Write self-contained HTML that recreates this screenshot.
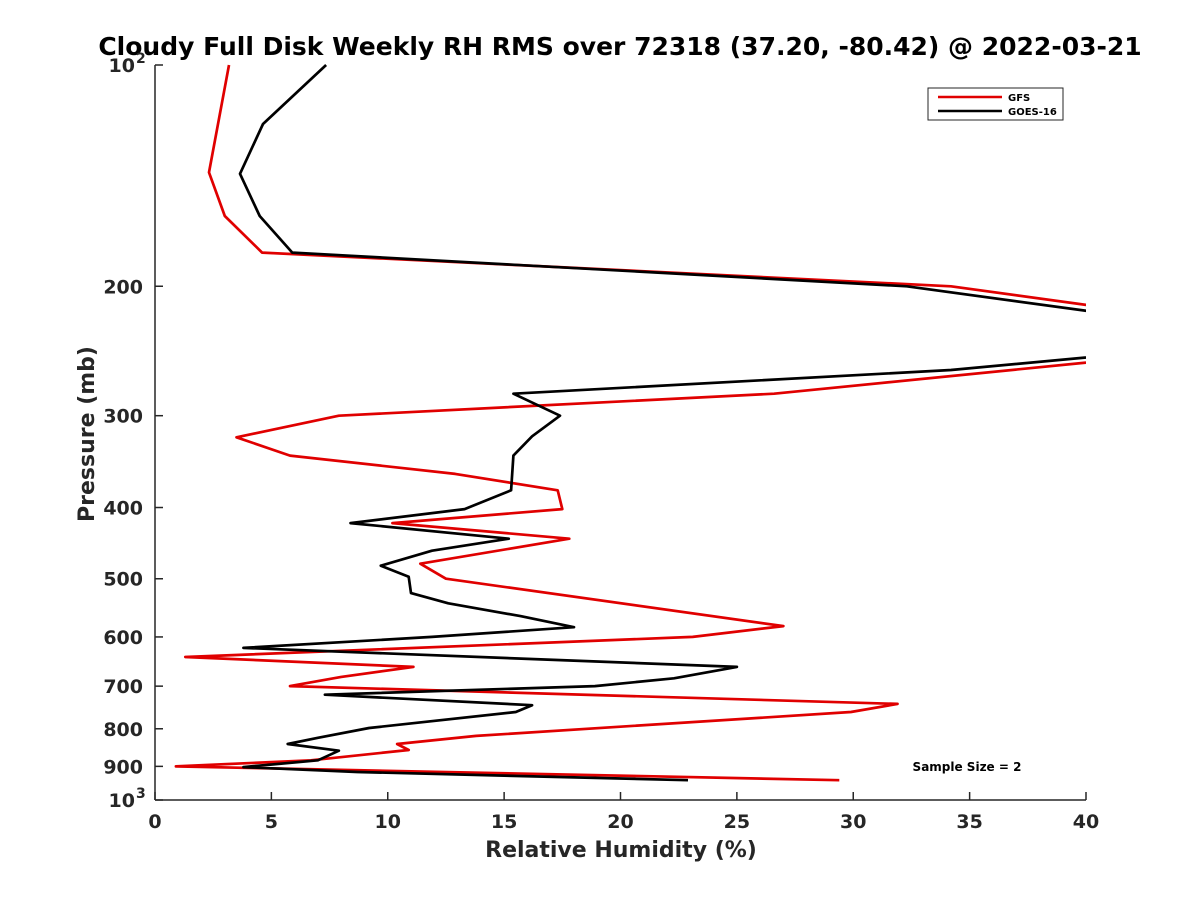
<!DOCTYPE html>
<html><head><meta charset="utf-8"><style>
body{margin:0;background:#fff;}
svg text{font-family:"DejaVu Sans","Liberation Sans",sans-serif;font-weight:bold;fill:#262626;}
</style></head><body>
<svg id="chart" width="1200" height="900" xmlns="http://www.w3.org/2000/svg">
<rect width="1200" height="900" fill="#fff"/>
<text x="620" y="55" text-anchor="middle" font-size="25" style="fill:#000">Cloudy Full Disk Weekly RH RMS over 72318 (37.20, -80.42) @ 2022-03-21</text>
<defs><clipPath id="clip"><rect x="155" y="60" width="931" height="745"/></clipPath></defs>
<g id="ticks"></g>
<g id="series" clip-path="url(#clip)"></g>
<line x1="155" y1="65" x2="155" y2="800" stroke="#262626" stroke-width="1.5"/>
<line x1="155" y1="800" x2="1086" y2="800" stroke="#262626" stroke-width="1.5"/>
<text x="621" y="857" text-anchor="middle" font-size="22">Relative Humidity (%)</text>
<text transform="translate(94,434) rotate(-90)" text-anchor="middle" font-size="22">Pressure (mb)</text>
<g>
<rect x="928" y="88" width="135" height="32" fill="#fff" stroke="#262626" stroke-width="1"/>
<line x1="938" y1="97" x2="1002" y2="97" stroke="#e00000" stroke-width="2.5"/>
<text x="1008" y="101" font-size="10" style="fill:#000">GFS</text>
<line x1="938" y1="111" x2="1002" y2="111" stroke="#000" stroke-width="2.5"/>
<text x="1008" y="115" font-size="10" style="fill:#000">GOES-16</text>
</g>
<text x="967" y="771" text-anchor="middle" font-size="12" style="fill:#000">Sample Size = 2</text>
</svg>
<script>
const xTicks=[0,5,10,15,20,25,30,35,40];
const yTicks=[100,200,300,400,500,600,700,800,900,1000];
const yTickLabels=["10|2","200","300","400","500","600","700","800","900","10|3"];
const gfsRH=[3.18,2.32,3.0,4.6,34.2,40,48,40,26.6,7.9,3.5,5.8,12.9,17.3,17.5,10.2,17.8,11.4,12.5,27.0,23.1,1.3,11.1,8.0,5.8,31.9,29.9,13.8,10.4,10.9,6.7,0.9,29.4];
const gfsP=[100,140,160.5,180,200,212,232,254,280,300,321,340,360,379,402,420,441,477,500,580,600,639,659,680,700,740,759,818,839,855,883,900,940];
const goesRH=[7.35,4.64,3.65,4.5,5.9,32.3,40,48,40,34.2,15.4,17.4,16.2,15.4,15.3,13.3,8.4,15.2,11.9,9.7,10.9,11.0,12.6,15.7,18.0,11.9,3.8,25.0,22.3,18.9,7.3,16.2,15.5,9.2,7.0,5.7,7.9,7.0,3.8,8.7,22.9];
const goesP=[100,120.3,140.6,160.5,180,200,216,232,250,260,280,300,320,340,379,402,420,441,458,480,497,523,540,562,582,600,621,659,683,700,719,743,759,798,823,839,857,883,902,916,940];
const X=v=>155+v/40*931;
const Y=p=>65+Math.log10(p/100)*735;
const NS="http://www.w3.org/2000/svg";
const tg=document.getElementById('ticks');
function mk(tag,attrs,parent){const e=document.createElementNS(NS,tag);for(const k in attrs)e.setAttribute(k,attrs[k]);parent.appendChild(e);return e;}
xTicks.forEach(v=>{
  const l=mk('line',{x1:X(v),x2:X(v),y1:800,y2:792,stroke:'#262626','stroke-width':1.5},tg);
  
  
  const t=mk('text',{x:X(v),y:828,'text-anchor':'middle','font-size':19},tg);
  
  
  t.textContent=v;
});
yTicks.forEach((p,i)=>{
  const l=mk('line',{x1:155,x2:163,y1:Y(p),y2:Y(p),stroke:'#262626','stroke-width':1.5},tg);
  
  
  const parts=yTickLabels[i].split('|');
  const t=mk('text',{x:parts.length>1?135:143,y:Y(p)+7,'text-anchor':'end','font-size':19},tg);
  
  
  t.textContent=parts[0];
  if(parts.length>1){
    const s=mk('text',{x:136,y:Y(p)-2,'font-size':14},tg);
    
    
    s.textContent=parts[1];
  }
});
const sg=document.getElementById('series');
function line(xs,ps,color,name){
  const d=xs.map((v,i)=>(i?'L':'M')+X(v).toFixed(1)+','+Y(ps[i]).toFixed(1)).join('');
  const e=mk('path',{d:d,fill:'none',stroke:color,'stroke-width':2.7,'stroke-linejoin':'round'},sg);
  
  
}
line(gfsRH,gfsP,'#e00000','gfs-line');
line(goesRH,goesP,'#000000','goes16-line');
</script>
</body></html>
